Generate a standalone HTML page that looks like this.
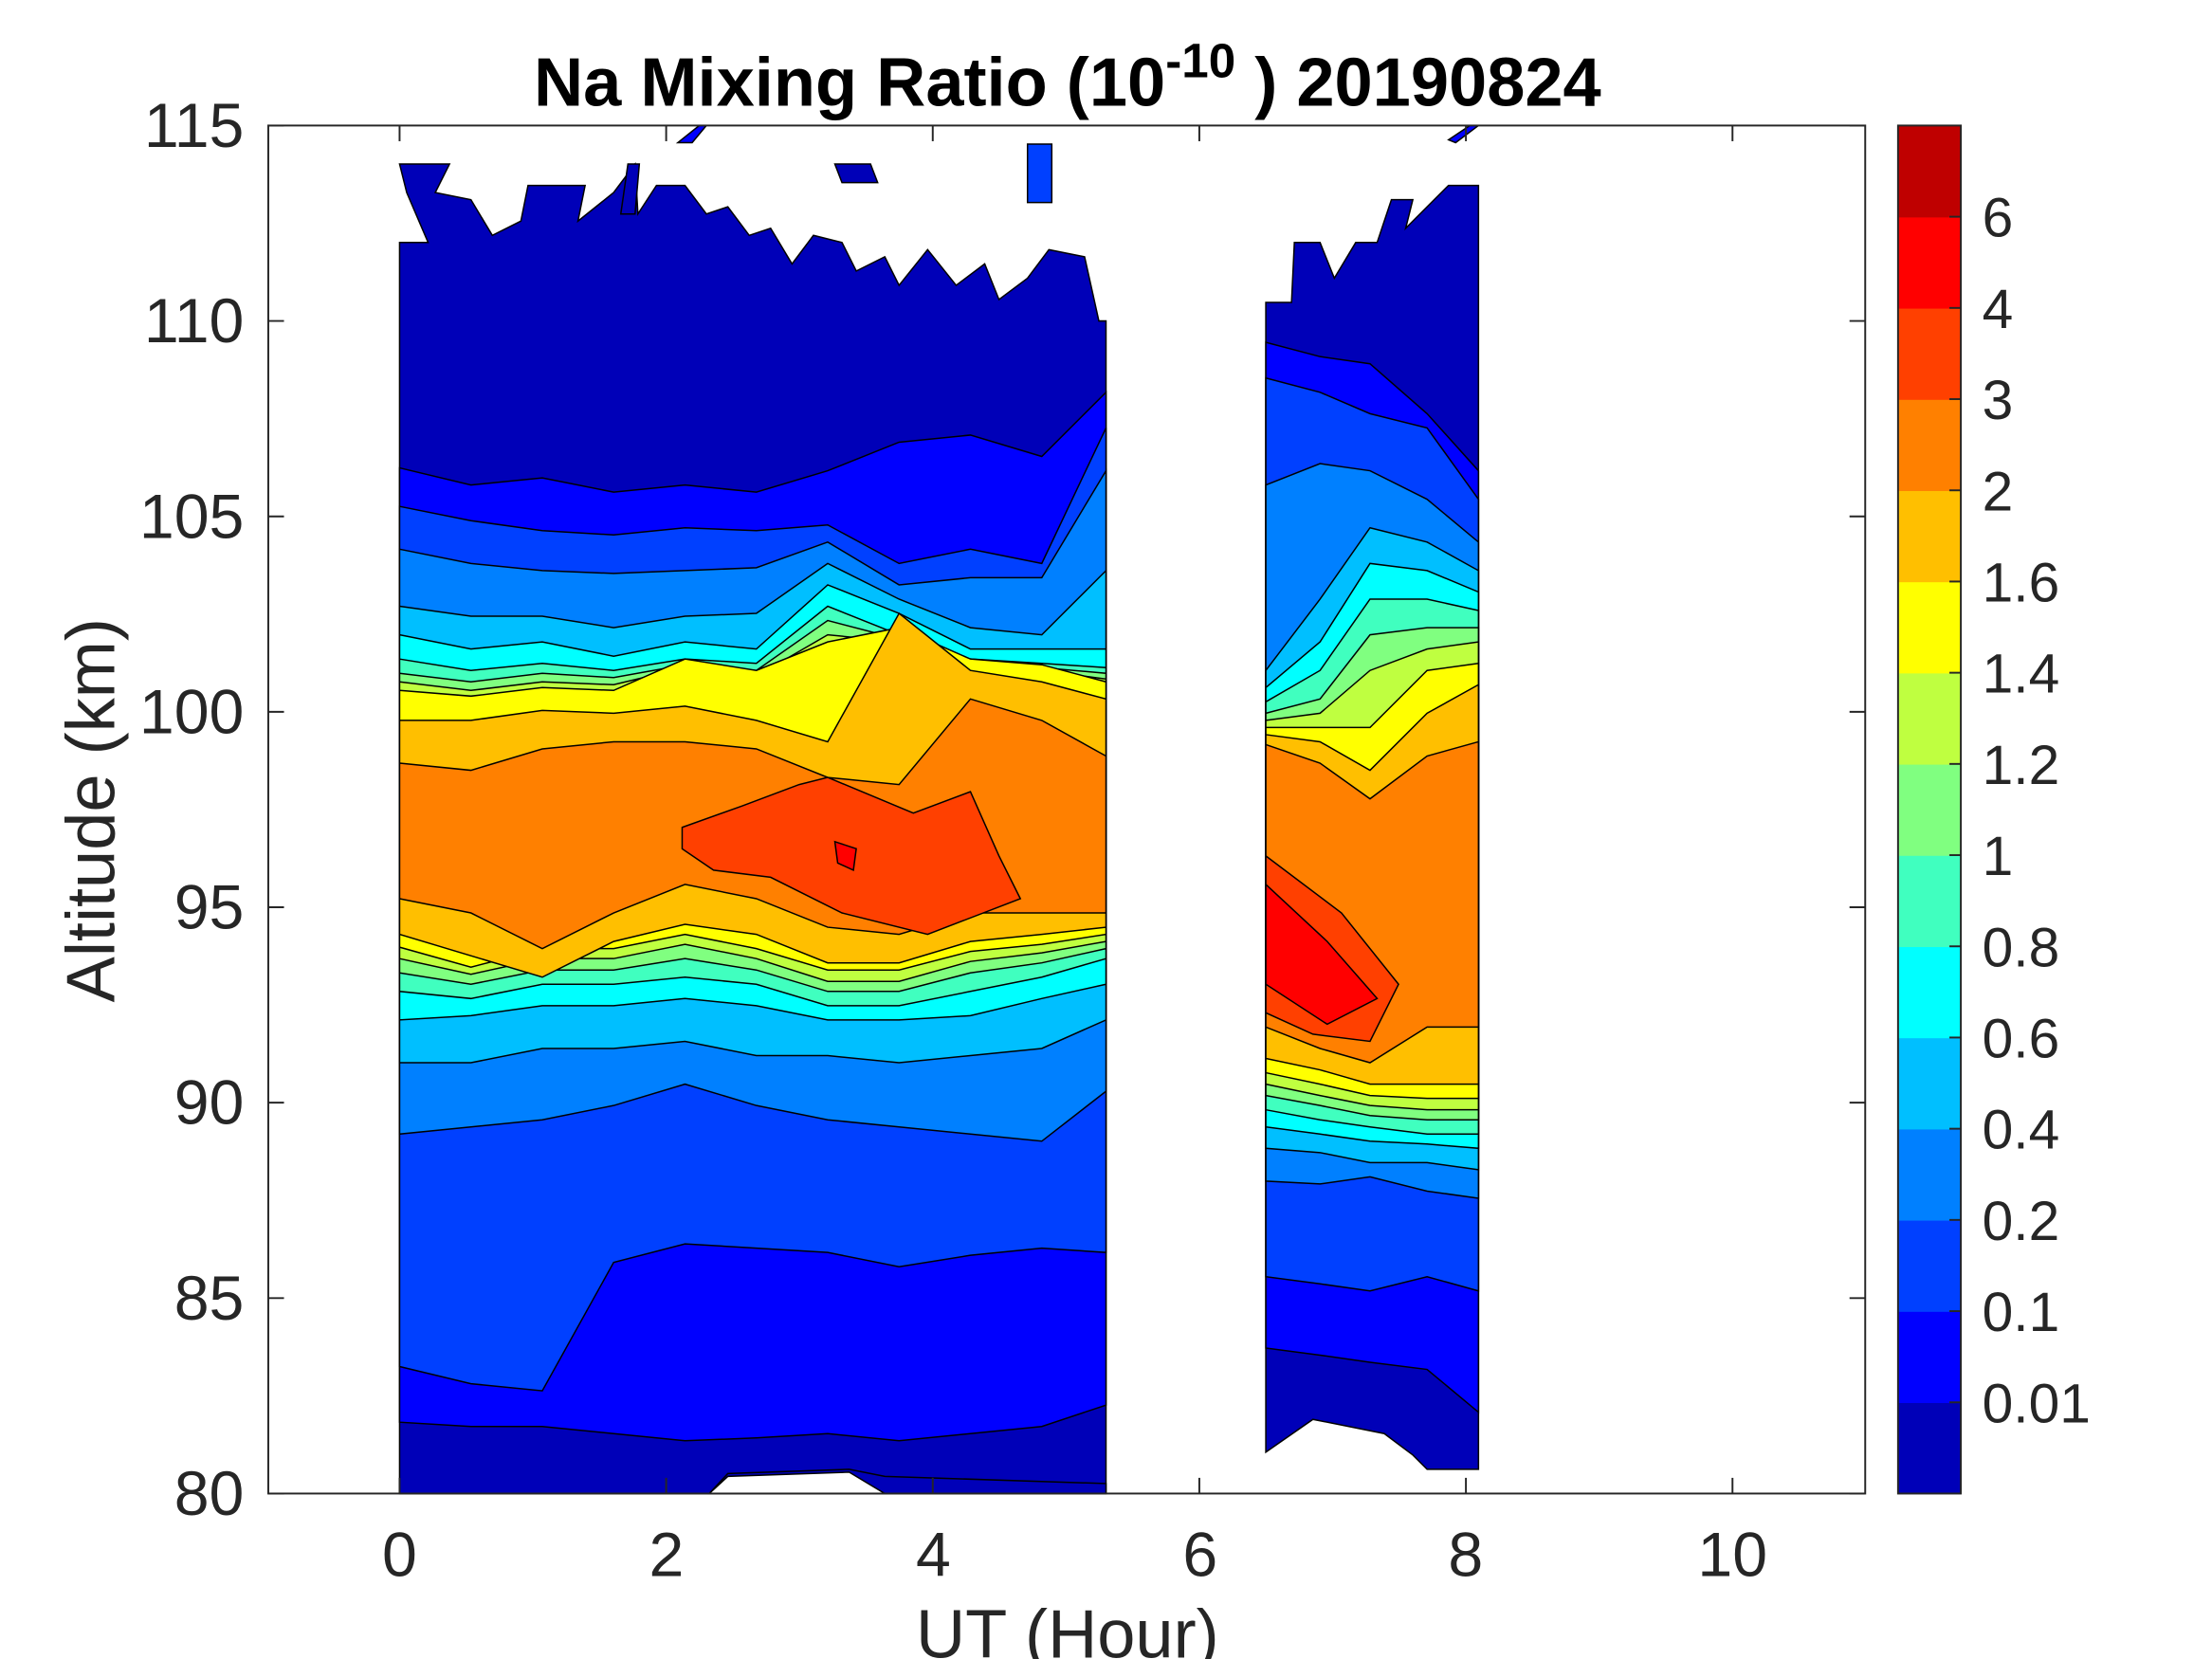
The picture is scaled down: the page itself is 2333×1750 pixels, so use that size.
<!DOCTYPE html>
<html><head><meta charset="utf-8"><style>
html,body{margin:0;padding:0;background:#fff;}
svg{display:block;}
text{font-family:"Liberation Sans",sans-serif;fill:#262626;}
</style></head><body>
<svg id="s" width="2333" height="1750" viewBox="0 0 1550 1163" preserveAspectRatio="none" xmlns="http://www.w3.org/2000/svg">
<rect x="0" y="0" width="1550" height="1163" fill="#fff"/>
<g id="data"></g>
<rect x="188" y="88" width="1119" height="959" fill="none" stroke="#262626" stroke-width="1.3"/>
<g id="ticks" stroke="#262626" stroke-width="1.3"></g>
<g font-size="44" text-anchor="end">
<text x="171" y="1062">80</text><text x="171" y="925">85</text><text x="171" y="788">90</text>
<text x="171" y="651">95</text><text x="171" y="514">100</text><text x="171" y="377">105</text>
<text x="171" y="240">110</text><text x="171" y="103">115</text>
</g>
<g font-size="44" text-anchor="middle">
<text x="280" y="1105">0</text><text x="467" y="1105">2</text><text x="654" y="1105">4</text>
<text x="841" y="1105">6</text><text x="1027" y="1105">8</text><text x="1214" y="1105">10</text>
</g>
<text x="748" y="1162" font-size="48" text-anchor="middle">UT (Hour)</text>
<text transform="translate(80,568) rotate(-90)" font-size="48" text-anchor="middle">Altitude (km)</text>
<text x="748" y="74" font-size="48" font-weight="bold" text-anchor="middle" style="fill:#000">Na Mixing Ratio (10<tspan dy="-20" font-size="34">-10</tspan><tspan dy="20"> ) 20190824</tspan></text>
<g id="cbar"></g>
<rect x="1330" y="88" width="44" height="959" fill="none" stroke="#262626" stroke-width="1.3"/>
<g font-size="39" id="cblab"></g>
</svg>
<script>
var NS="http://www.w3.org/2000/svg";
function el(p,t,a){var e=document.createElementNS(NS,t);for(var k in a)e.setAttribute(k,a[k]);p.appendChild(e);return e;}
var cols=["#0000b8","#0000ff","#0040ff","#0080ff","#00bfff","#00ffff","#40ffbf","#80ff80","#bfff40","#ffff00","#ffbf00","#ff8000","#ff4000","#ff0000","#bf0000"];
var D=document.getElementById("data");
function band(xs,up,lo,c){var p=[];for(var i=0;i<xs.length;i++)p.push(xs[i]+","+up[i]);for(var i=xs.length-1;i>=0;i--)p.push(xs[i]+","+lo[i]);
el(D,"polygon",{points:p.join(" "),fill:c,stroke:"#000","stroke-width":"1"});}
function poly(pts,c){el(D,"polygon",{points:pts,fill:c,stroke:"#000","stroke-width":"1"});}
var x1=[280,330,380,430,480,530,580,630,680,730,775];
poly("280,115 315,115 305,135 330,140 345,165 365,155 370,130 410,130 405,155 430,135 445,115 447,150 460,130 480,130 495,150 510,145 525,165 540,160 555,185 570,165 590,170 600,190 620,180 630,200 650,175 670,200 690,185 700,210 720,195 735,175 760,180 770,225 775,225 775,1047 280,1047 280,170 300,170 285,135","#0000b8");
poly("440,115 448,115 445,150 435,150","#0000b8");poly("585,115 610,115 615,128 590,128","#0000b8");
poly("475,100 490,88 495,88 485,100","#0000ff");poly("720,101 737,101 737,142 720,142","#0040ff");
band(x1,[328,340,335,345,340,345,330,310,305,320,275],[997,1000,1000,1005,1010,1008,1005,1010,1005,1000,985],cols[1]);
band(x1,[355,365,372,375,370,372,368,395,385,395,300],[958,970,975,885,872,875,878,888,880,875,878],cols[2]);
band(x1,[385,395,400,402,400,398,380,410,405,405,330],[795,790,785,775,760,775,785,790,795,800,765],cols[3]);
band(x1,[425,432,432,440,432,430,395,420,440,445,400],[745,745,735,735,730,740,740,745,740,735,715],cols[4]);
band(x1,[445,455,450,460,450,455,410,430,455,455,455],[715,712,705,705,700,705,715,715,712,700,690],cols[5]);
band(x1,[462,470,465,470,462,465,425,445,462,465,468],[695,700,690,690,685,690,705,705,695,685,672],cols[6]);
band(x1,[472,478,472,475,466,470,435,448,466,468,472],[682,690,680,680,672,680,695,695,682,675,665],cols[7]);
band(x1,[478,484,478,480,468,474,445,450,468,470,476],[672,683,672,672,662,672,688,688,674,668,660],cols[8]);
band(x1,[484,488,482,484,462,470,450,440,462,466,478],[664,678,665,665,655,665,680,680,667,662,655],cols[9]);
band(x1,[505,505,498,500,495,505,520,430,470,478,490],[655,670,685,660,648,655,675,675,660,655,650],cols[10]);
band(x1,[535,540,525,520,520,525,545,550,490,505,530],[630,640,665,640,620,630,650,655,640,640,640],cols[11]);
poly("478,580 520,565 560,550 580,545 640,570 680,555 700,600 715,630 650,655 590,640 540,615 500,610 478,595",cols[12]);
poly("585,590 600,595 598,610 587,605",cols[13]);
poly("280,1047 775,1047 775,1040 620,1035 595,1030 510,1033 497,1047","#0000b8");
poly("497,1047 510,1035 595,1032 620,1047","#fff");
var x2=[887,925,960,1000,1036];
poly("887,212 905,212 907,170 925,170 935,195 950,170 965,170 975,140 990,140 985,160 1000,145 1015,130 1036,130 1036,1030 1000,1030 990,1020 970,1005 920,995 887,1018","#0000b8");
poly("1015,98 1030,88 1036,88 1020,100","#0000ff");
band(x2,[240,250,255,290,330],[945,950,955,960,990],cols[1]);
band(x2,[265,275,290,300,350],[895,900,905,895,905],cols[2]);
band(x2,[340,325,330,350,380],[828,830,825,835,840],cols[3]);
band(x2,[470,420,370,380,400],[805,808,815,815,820],cols[4]);
band(x2,[482,450,395,400,415],[790,795,800,802,805],cols[5]);
band(x2,[492,470,420,420,428],[778,785,790,795,795],cols[6]);
band(x2,[500,490,445,440,440],[768,775,782,785,785],cols[7]);
band(x2,[505,500,470,455,450],[760,768,775,778,778],cols[8]);
band(x2,[510,510,510,470,465],[752,760,768,770,770],cols[9]);
band(x2,[515,520,540,500,480],[742,750,760,760,760],cols[10]);
band(x2,[522,535,560,530,520],[720,735,745,720,720],cols[11]);
poly("887,600 940,640 980,690 960,730 920,725 887,710",cols[12]);
poly("887,620 930,660 965,700 930,718 887,690",cols[13]);
var T=document.getElementById("ticks");
for(var h=0;h<=10;h+=2){var x=280+h*93.4;el(T,"line",{x1:x,y1:1047,x2:x,y2:1036});el(T,"line",{x1:x,y1:88,x2:x,y2:99});}
for(var k=0;k<=7;k++){var y=1047-k*137;el(T,"line",{x1:188,y1:y,x2:199,y2:y});el(T,"line",{x1:1307,y1:y,x2:1296,y2:y});}
var C=document.getElementById("cbar"),L=document.getElementById("cblab");
var labs=["0.01","0.1","0.2","0.4","0.6","0.8","1","1.2","1.4","1.6","2","3","4","6"];
var hh=959/15;
for(var i=0;i<15;i++){el(C,"rect",{x:1330,y:1047-(i+1)*hh,width:44,height:hh+0.5,fill:cols[i]});}
for(var i=0;i<14;i++){var y=1047-(i+1)*hh;el(C,"line",{x1:1366,y1:y,x2:1374,y2:y,stroke:"#262626","stroke-width":"1.3"});
var t=el(L,"text",{x:1389,y:y+14});t.textContent=labs[i];}
</script>
</body></html>
